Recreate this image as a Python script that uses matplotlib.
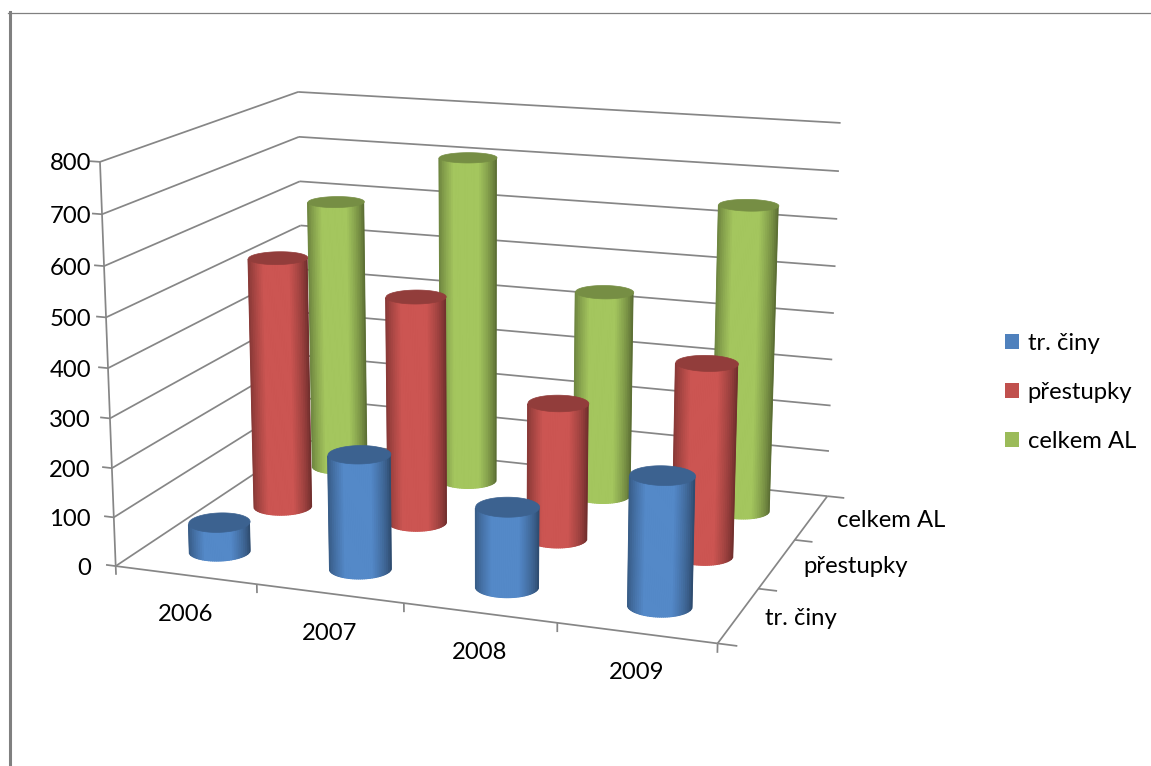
import numpy as np
import matplotlib
matplotlib.use('Agg')
import matplotlib.pyplot as plt
from matplotlib.colors import to_rgb
from matplotlib.lines import Line2D
from matplotlib.patches import Patch
from mpl_toolkits.mplot3d import proj3d
from mpl_toolkits.mplot3d.art3d import Poly3DCollection

plt.rcParams['font.family'] = ['Lato', 'DejaVu Sans']

# Chart data
years = ['2006', '2007', '2008', '2009']
series_names = ['tr. činy', 'přestupky', 'celkem AL']
tr_ciny = [60, 232, 160, 255]
prestupky = [533, 476, 283, 393]
celkem_al = [593, 708, 443, 648]
series_values = [tr_ciny, prestupky, celkem_al]
series_colors = ['#4F81BD', '#C0504D', '#9BBB59']
value_ticks = list(range(0, 801, 100))

W, H = 1151, 766
GRID = '#868686'
RADIUS = 0.2
FONT = 17.2
ELEV, AZIM, FOCAL = 14.416, -70.09, 0.5583

fig = plt.figure(figsize=(W / 100, H / 100), dpi=100)
side = 831.8
ax = fig.add_axes([59.25 / W, -0.6 / H, side / W, side / H], projection='3d')
ax.computed_zorder = False
ax.set_xlim(0, 4)
ax.set_ylim(0, 3)
ax.set_zlim(0, 800)
ax.view_init(elev=ELEV, azim=AZIM)
ax.set_proj_type('persp', focal_length=FOCAL)
ax.set_box_aspect((1.5129, 1.1342, 1))
ax.set_axis_off()
ax.patch.set_alpha(0)


def screen(x, y, z):
    """Pixel position of a data point under the current camera."""
    ax.apply_aspect()
    X, Y, _ = proj3d.proj_transform(x, y, z, ax.get_proj())
    return ax.transData.transform((X, Y))


def line3(xs, ys, zs):
    ax.plot(xs, ys, zs, color=GRID, lw=1.25, zorder=1, solid_capstyle='butt')


# Walls and floor
for v in value_ticks:
    line3([0, 0], [0, 3], [v, v])
    line3([0, 4], [3, 3], [v, v])
line3([0, 0], [0, 0], [0, 800])
line3([0, 4], [0, 0], [0, 0])
line3([4, 4], [0, 3], [0, 0])

# Tick marks
for v in value_ticks:
    line3([-0.07, 0], [0, 0], [v, v])
for i in range(len(years) + 1):
    line3([i, i], [0, 0], [-18, 0])
for j in range(len(series_names) + 1):
    line3([4, 4.12], [j, j], [0, 0])

# Camera position in data units, used to pick the visible side of each bar
box = np.asarray(ax._box_aspect)
az, el = np.radians(AZIM), np.radians(ELEV)
eye_dir = np.array([np.cos(el) * np.cos(az), np.cos(el) * np.sin(az)])
eye_box = 0.5 * box[:2] + 10 * FOCAL * eye_dir
eye_xy = eye_box / box[:2] * np.array([4, 3])


def cylinder(cx, cy, height, color, order):
    base = np.array(to_rgb(color))
    to_eye = eye_xy - np.array([cx, cy])
    to_eye = to_eye / np.hypot(*to_eye)
    mid = np.arctan2(to_eye[1], to_eye[0])

    def rim_point(a, z):
        return (cx + RADIUS * np.cos(a), cy + RADIUS * np.sin(a), z)

    def wall(angles):
        bottom = [rim_point(a, 0) for a in angles]
        upper = [rim_point(a, height) for a in angles[::-1]]
        return bottom + upper

    # Solid silhouette in the rim colour keeps the outline clean
    dark = tuple(base * 0.56)
    outline = mid + np.linspace(-np.pi / 2, np.pi / 2, 61)
    ax.add_collection3d(Poly3DCollection([wall(outline)], facecolors=[dark], edgecolors='none',
                                         zorder=order))

    # Bands of equal width across the bar, dark rims rising to a bright centre
    across = np.linspace(-0.985, 0.985, 33)
    angles = mid + np.arcsin(across)
    quads, colours = [], []
    for k in range(len(across) - 1):
        quads.append(wall(np.linspace(angles[k], angles[k + 1], 3)))
        u = 0.5 * (across[k] + across[k + 1])
        t = np.clip((1 - abs(u + 0.06)) / 0.6, 0, 1)
        colours.append(tuple(np.clip(base * (0.60 + 0.46 * t ** 0.75), 0, 1)))
    ax.add_collection3d(Poly3DCollection(quads, facecolors=colours, edgecolors=colours,
                                         linewidths=1.0, zorder=order + 0.2))

    # Darker top face
    ring = np.linspace(0, 2 * np.pi, 91)
    top = np.column_stack([cx + RADIUS * np.cos(ring), cy + RADIUS * np.sin(ring),
                           np.full_like(ring, height)])
    cap = tuple(base * 0.76)
    ax.add_collection3d(Poly3DCollection([top], facecolors=[cap], edgecolors=[cap],
                                         linewidths=0.5, zorder=order + 0.5))


# Bars, painted from the back row forward
order = 2
for j in reversed(range(len(series_names))):
    for i in range(len(years)):
        cylinder(i + 0.5, j + 0.5, series_values[j][i], series_colors[j], order)
        order += 1

# Axis labels
for v in value_ticks:
    _, py = screen(0, 0, v)
    fig.text(91 / W, (py - 2) / H, str(v), ha='right', va='center', fontsize=FONT, color='black')
for i, name in enumerate(years):
    px, py = screen(i + 0.5, 0, 0)
    fig.text(px / W, (py - 39.5) / H, name, ha='center', va='center', fontsize=FONT, color='black')
for j, name in enumerate(series_names):
    px, py = screen(4, j + 0.5, 0)
    fig.text((px + 26) / W, (py - 3) / H, name, ha='left', va='center', fontsize=FONT, color='black')

# Legend
handles = [Patch(facecolor=c, edgecolor='none', label=n) for c, n in zip(series_colors, series_names)]
fig.legend(handles=handles, loc='center left', bbox_to_anchor=(1005 / W, (H - 392.5) / H),
           frameon=False, fontsize=FONT, handlelength=0.6, handleheight=0.6,
           handletextpad=0.35, labelspacing=1.16, borderpad=0, borderaxespad=0)

# Page frame
fig.add_artist(Line2D([8 / W, 1], [(H - 12.5) / H] * 2, color='#808080', lw=0.9))
fig.add_artist(Line2D([9.5 / W] * 2, [0, (H - 12) / H], color='#808080', lw=2.2))

fig.savefig('out.png', dpi=100, facecolor='white')
